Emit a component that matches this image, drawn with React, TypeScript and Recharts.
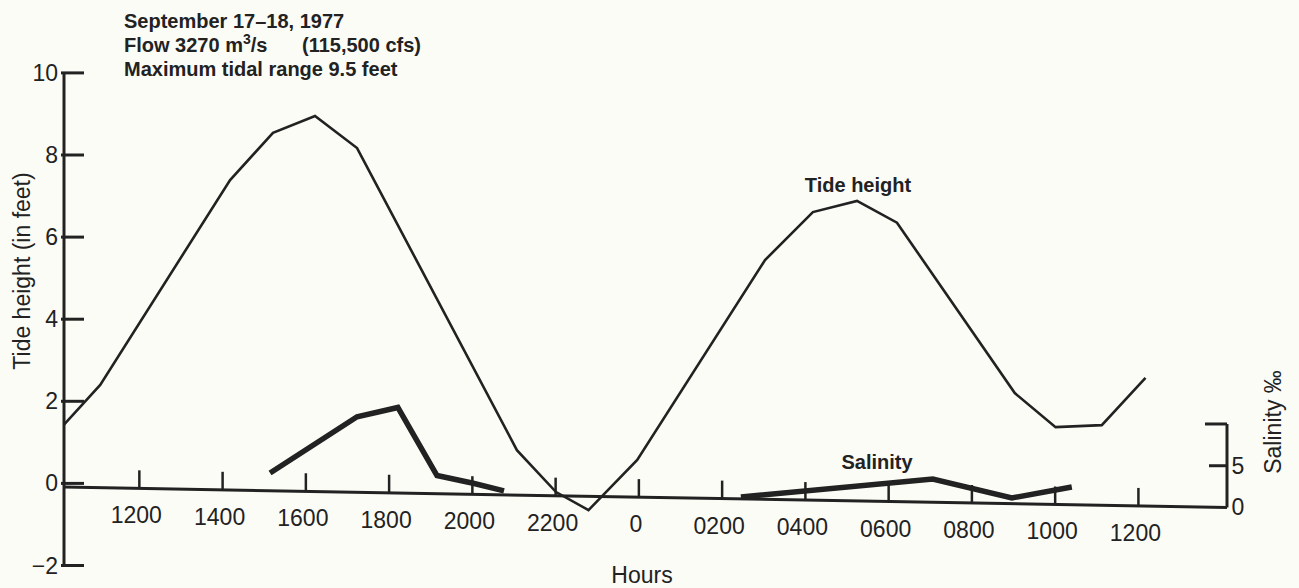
import React from "react";
import { LineChart, Line, XAxis, YAxis, ReferenceLine } from "recharts";

// hours counted from midnight at the start of September 17 (24 = midnight, 36 = noon Sept 18)
const hourTicks = [12, 14, 16, 18, 20, 22, 24, 26, 28, 30, 32, 34, 36];
const tideTicks = [-2, 0, 2, 4, 6, 8, 10];
const salinityTicks = [0, 5, 10];

const tideHours = [10.19, 11.06, 14.18, 15.21, 16.22, 17.23, 21.07, 22.01, 22.79, 23.96, 27.03, 28.18, 29.24, 30.2, 33.03, 34.01, 35.12, 36.17];
const tideFeet = [1.43, 2.4, 7.39, 8.54, 8.95, 8.17, 0.81, -0.21, -0.65, 0.57, 5.44, 6.61, 6.88, 6.35, 2.2, 1.37, 1.42, 2.57];

const salinityHoursA = [15.14, 17.23, 18.21, 19.15, 20.02, 20.76];
const salinityValuesA = [4.13, 10.87, 11.98, 3.83, 2.9, 1.98];
const salinityHoursB = [26.45, 31.06, 32.96, 34.4];
const salinityValuesB = [1.26, 3.41, 1.14, 2.46];

const xDomain = [10.19, 38.128];
const tideDomain = [-2, 10];
const salinityDomain = [-6.95, 52.05];
// drawn hours axis (slightly tilted in the original scan), in tide-feet units
const axisLineFeet = [-0.09, -0.587];

const tideData = tideHours.map((h, i) => ({ h, v: tideFeet[i] }));
const salA = salinityHoursA.map((h, i) => ({ h, s: salinityValuesA[i] }));
const salB = salinityHoursB.map((h, i) => ({ h, s: salinityValuesB[i] }));

const INK = "#222";
const FONT = "'Liberation Sans', Arial, Helvetica, sans-serif";
const W = 1299;
const H = 588;
const LEFT_X = 64;
const RIGHT_X = 1227;
const AXIS_Y_LEFT = 487;
const AXIS_Y_RIGHT = 507.5;

const fmtHour = (h: number) => {
  const m = h % 24;
  if (m === 0) return "0";
  return String(m * 100).padStart(4, "0");
};

const HourTick = (props: any) => {
  const { x, payload } = props;
  const yb = AXIS_Y_LEFT + ((x - LEFT_X) * (AXIS_Y_RIGHT - AXIS_Y_LEFT)) / (RIGHT_X - LEFT_X);
  return (
    <g>
      <line x1={x} x2={x} y1={yb} y2={yb - 18} stroke={INK} strokeWidth={2.5} />
      <text x={x - 3} y={yb + 35} textAnchor="middle" fontSize={23} fontFamily={FONT} fill={INK}>
        {fmtHour(payload.value)}
      </text>
    </g>
  );
};

const TideTick = (props: any) => {
  const { y, payload } = props;
  const v = payload.value;
  const label = v < 0 ? "\u2212" + Math.abs(v) : String(v);
  return (
    <g>
      <line x1={LEFT_X - 3} x2={LEFT_X + 20} y1={y} y2={y} stroke={INK} strokeWidth={3} />
      <text x={58} y={y + 8} textAnchor="end" fontSize={23} fontFamily={FONT} fill={INK}>
        {label}
      </text>
    </g>
  );
};

const SalTick = (props: any) => {
  const { y, payload } = props;
  const v = payload.value;
  return (
    <g>
      {v !== 0 && (
        <line x1={RIGHT_X - (v === 10 ? 22 : 18)} x2={RIGHT_X} y1={y} y2={y} stroke={INK} strokeWidth={3} />
      )}
      {v !== 10 && (
        <text x={RIGHT_X + 11} y={y + 8} textAnchor="middle" fontSize={23} fontFamily={FONT} fill={INK} dx={0}>
          {String(v)}
        </text>
      )}
    </g>
  );
};

export default function App() {
  return (
    <div
      style={{
        position: "absolute",
        left: 0,
        top: 0,
        width: W,
        height: H,
        background: "#fcfcf7",
      }}
    >
      <LineChart
        width={W}
        height={H}
        margin={{ top: 72.9, right: 32, bottom: 2.5, left: 24 }}
      >
        <XAxis
          type="number"
          dataKey="h"
          domain={xDomain}
          ticks={hourTicks}
          allowDataOverflow
          axisLine={false}
          tickLine={false}
          tick={<HourTick />}
          height={20}
        />
        <YAxis
          yAxisId="tide"
          type="number"
          domain={tideDomain}
          ticks={tideTicks}
          allowDataOverflow
          width={40}
          axisLine={{ stroke: INK, strokeWidth: 3 }}
          tickLine={false}
          tick={<TideTick />}
        />
        <YAxis
          yAxisId="sal"
          orientation="right"
          type="number"
          domain={salinityDomain}
          ticks={salinityTicks}
          allowDataOverflow
          width={40}
          axisLine={false}
          tickLine={false}
          tick={<SalTick />}
        />
        <ReferenceLine
          yAxisId="tide"
          segment={[
            { x: xDomain[0], y: axisLineFeet[0] },
            { x: xDomain[1], y: axisLineFeet[1] },
          ]}
          stroke={INK}
          strokeWidth={3}
          ifOverflow="visible"
        />
        <ReferenceLine
          yAxisId="sal"
          segment={[
            { x: xDomain[1], y: salinityTicks[0] },
            { x: xDomain[1], y: salinityTicks[2] },
          ]}
          stroke={INK}
          strokeWidth={3}
          ifOverflow="visible"
        />
        <Line
          yAxisId="tide"
          data={tideData}
          dataKey="v"
          stroke={INK}
          strokeWidth={2.6}
          dot={false}
          activeDot={false}
          isAnimationActive={false}
          type="linear"
        />
        <Line
          yAxisId="sal"
          data={salA}
          dataKey="s"
          stroke={INK}
          strokeWidth={5.5}
          dot={false}
          activeDot={false}
          isAnimationActive={false}
          type="linear"
        />
        <Line
          yAxisId="sal"
          data={salB}
          dataKey="s"
          stroke={INK}
          strokeWidth={5.5}
          dot={false}
          activeDot={false}
          isAnimationActive={false}
          type="linear"
        />
        <text x={124} y={28} fontSize={20} fontWeight="bold" fontFamily={FONT} fill={INK}>
          September 17–18, 1977
        </text>
        <text x={124} y={52} fontSize={20} fontWeight="bold" fontFamily={FONT} fill={INK}>
          Flow 3270 m<tspan dy={-8} fontSize={14}>3</tspan><tspan dy={8}>/s</tspan>
        </text>
        <text x={302} y={52} fontSize={20} fontWeight="bold" fontFamily={FONT} fill={INK}>
          (115,500 cfs)
        </text>
        <text x={124} y={76} fontSize={20} fontWeight="bold" fontFamily={FONT} fill={INK}>
          Maximum tidal range 9.5 feet
        </text>
        <text x={858} y={192} textAnchor="middle" fontSize={20} fontWeight="bold" fontFamily={FONT} fill={INK}>
          Tide height
        </text>
        <text x={877} y={469} textAnchor="middle" fontSize={20} fontWeight="bold" fontFamily={FONT} fill={INK}>
          Salinity
        </text>
        <text x={642} y={583} textAnchor="middle" fontSize={23} fontFamily={FONT} fill={INK}>
          Hours
        </text>
        <text
          x={0}
          y={0}
          transform="translate(30, 271) rotate(-90)"
          textAnchor="middle"
          fontSize={23}
          fontFamily={FONT}
          fill={INK}
        >
          Tide height (in feet)
        </text>
        <text
          x={0}
          y={0}
          transform="translate(1281, 422) rotate(-90)"
          textAnchor="middle"
          fontSize={23}
          fontFamily={FONT}
          fill={INK}
        >
          Salinity ‰
        </text>
      </LineChart>
    </div>
  );
}
